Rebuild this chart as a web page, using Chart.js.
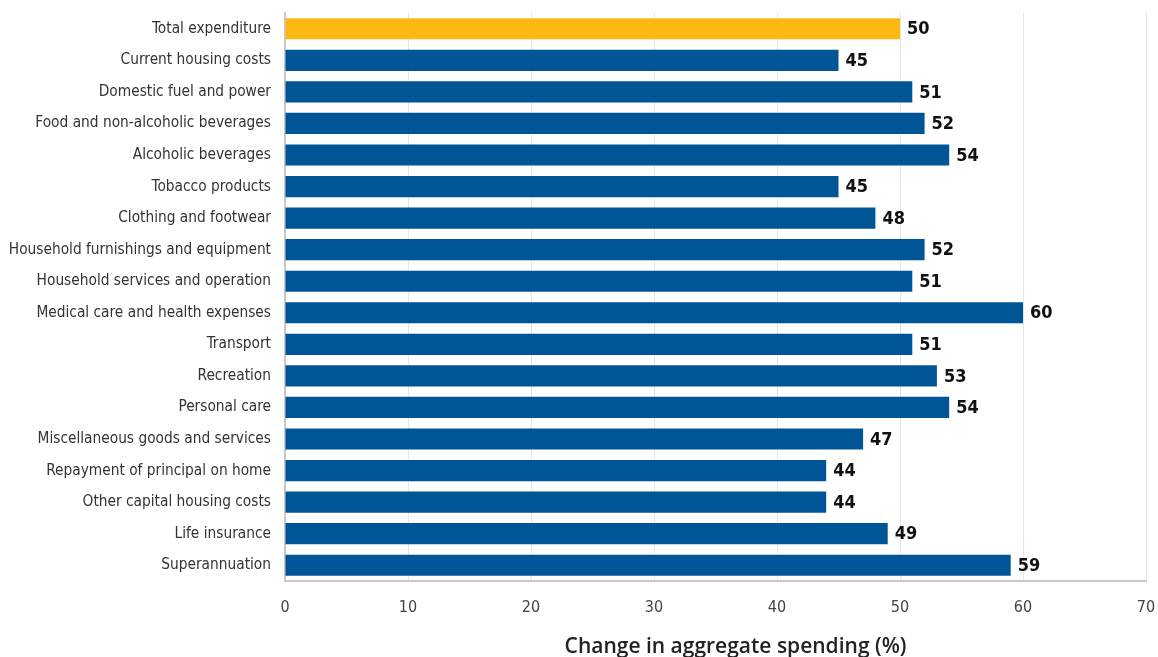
<!DOCTYPE html>
<html>
<head>
<meta charset="utf-8">
<script src="https://cdn.jsdelivr.net/npm/chart.js@4"></script>
<style>
  html, body { margin: 0; padding: 0; background: #ffffff; }
  #wrap { width: 1158px; height: 657px; position: relative; }
</style>
</head>
<body>
<div id="wrap"><canvas id="c" width="1158" height="657"></canvas></div>
<script>
const categories = [
  "Total expenditure",
  "Current housing costs",
  "Domestic fuel and power",
  "Food and non-alcoholic beverages",
  "Alcoholic beverages",
  "Tobacco products",
  "Clothing and footwear",
  "Household furnishings and equipment",
  "Household services and operation",
  "Medical care and health expenses",
  "Transport",
  "Recreation",
  "Personal care",
  "Miscellaneous goods and services",
  "Repayment of principal on home",
  "Other capital housing costs",
  "Life insurance",
  "Superannuation"
];
const changePct = [50, 45, 51, 52, 54, 45, 48, 52, 51, 60, 51, 53, 54, 47, 44, 44, 49, 59];
const xTicks = [0, 10, 20, 30, 40, 50, 60, 70];
const axisTitle = "Change in aggregate spending (%)";

const barColors = categories.map((c, i) => i === 0 ? "#FDB913" : "#005596");
const condensed = "'DejaVu Sans Condensed', 'Liberation Sans Narrow', sans-serif";

const valueLabels = {
  id: "valueLabels",
  afterDatasetsDraw(chart) {
    const ctx = chart.ctx;
    const meta = chart.getDatasetMeta(0);
    ctx.save();
    ctx.font = "bold 18px " + condensed;
    ctx.fillStyle = "#111111";
    ctx.textAlign = "left";
    ctx.textBaseline = "middle";
    meta.data.forEach((bar, i) => {
      ctx.fillText(String(changePct[i]), bar.x + 7, bar.y + 1);
    });
    ctx.restore();
  }
};

const axisTitlePlugin = {
  id: "axisTitlePlugin",
  afterDraw(chart) {
    const ctx = chart.ctx;
    const a = chart.chartArea;
    ctx.save();
    ctx.font = "600 21px 'Open Sans', sans-serif";
    ctx.fillStyle = "#222222";
    ctx.textAlign = "center";
    ctx.textBaseline = "middle";
    ctx.fillText(axisTitle, (a.left + a.right) / 2 + 20, a.bottom + 66);
    ctx.restore();
  }
};

new Chart(document.getElementById("c"), {
  type: "bar",
  data: {
    labels: categories,
    datasets: [{
      data: changePct,
      backgroundColor: barColors,
      borderWidth: 0,
      categoryPercentage: 1.0,
      barPercentage: 0.67
    }]
  },
  options: {
    indexAxis: "y",
    responsive: false,
    animation: false,
    devicePixelRatio: 1,
    layout: { padding: { top: 13, right: 12, left: 0, bottom: 0 } },
    plugins: {
      legend: { display: false },
      tooltip: { enabled: false }
    },
    scales: {
      x: {
        min: 0,
        max: 70,
        afterBuildTicks(scale) { scale.ticks = xTicks.map(v => ({ value: v })); },
        afterFit(scale) { scale.height = 76; scale.paddingLeft = 0; scale.paddingRight = 0; },
        grid: { color: "#e6e6e6", lineWidth: 1, drawTicks: false },
        border: { color: "#c8c8c8", width: 2 },
        ticks: {
          padding: 17,
          color: "#444444",
          font: { family: condensed, size: 16 }
        },
        title: { display: false, text: axisTitle }
      },
      y: {
        afterFit(scale) { scale.width = 285; scale.paddingTop = 0; scale.paddingBottom = 0; },
        grid: { display: false, drawTicks: false },
        border: { color: "#c8c8c8", width: 2 },
        ticks: {
          padding: 14,
          color: "#333333",
          autoSkip: false,
          font: { family: condensed, size: 15.3 }
        }
      }
    }
  },
  plugins: [valueLabels, axisTitlePlugin]
});
</script>
</body>
</html>
